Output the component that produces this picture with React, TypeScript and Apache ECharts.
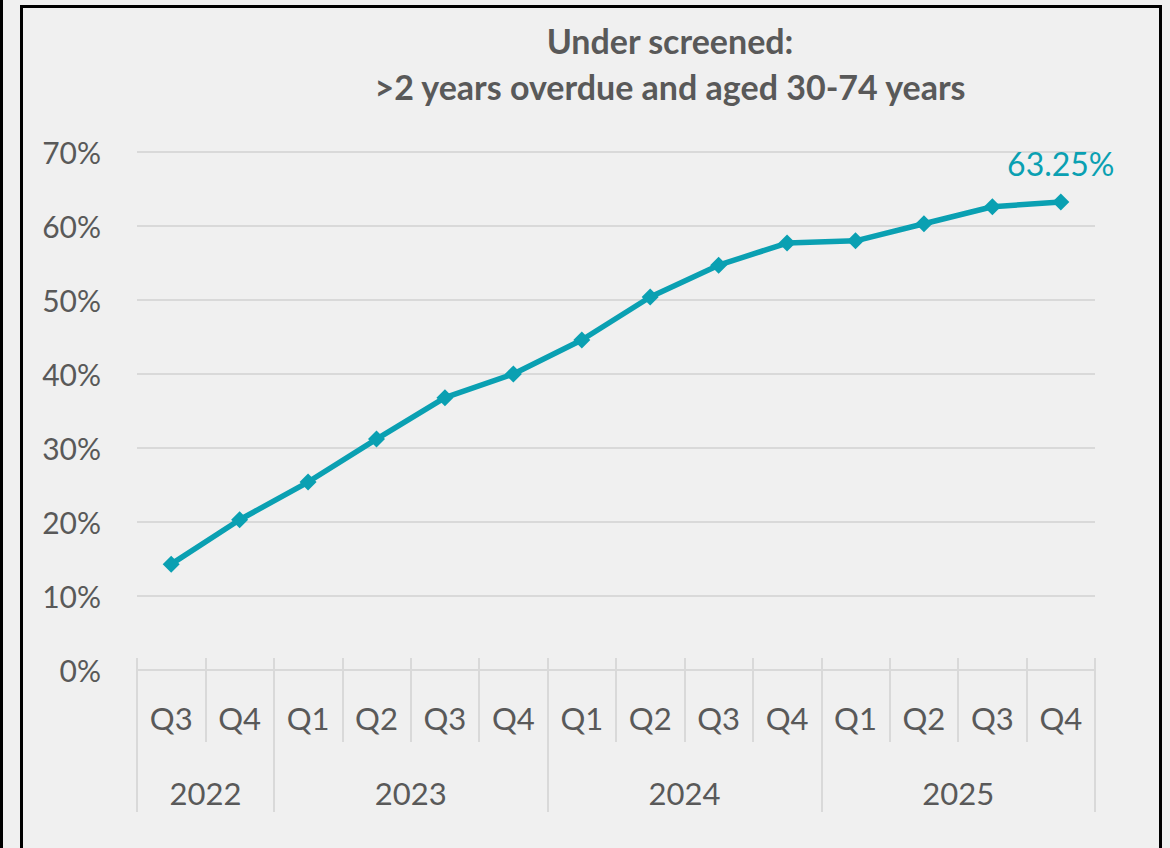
import React, { useEffect, useRef } from "react";
import * as echarts from "echarts";

const quarters = ["Q3", "Q4", "Q1", "Q2", "Q3", "Q4", "Q1", "Q2", "Q3", "Q4", "Q1", "Q2", "Q3", "Q4"];
const values = [14.3, 20.3, 25.4, 31.2, 36.8, 40.0, 44.6, 50.4, 54.7, 57.7, 58.0, 60.3, 62.6, 63.25];
const years = ["2022", "2023", "2024", "2025"];
const yearCenters = [1, 4, 8, 12];
const yearBounds = [0, 2, 6, 10, 14];
const titleLines = ["Under screened:", ">2 years overdue and aged 30-74 years"];

const FONT = "Lato, 'Open Sans', sans-serif";
const TEXT = "#595959";
const GRID = "#d9d9d9";
const TEAL = "#0aa0b2";

export default function App() {
  const ref = useRef<HTMLDivElement>(null);
  useEffect(() => {
    const chart = echarts.init(ref.current!, null, { renderer: "svg" });
    const lastIdx = values.length - 1;
    chart.setOption({
      animation: false,
      backgroundColor: "#f0f0f0",
      textStyle: { fontFamily: FONT },
      title: {
        text: titleLines.join("\n"),
        left: 665,
        top: 12,
        textAlign: "center",
        textStyle: { fontFamily: FONT, fontSize: 34, fontWeight: "bold", color: TEXT, lineHeight: 46 },
      },
      grid: { left: 137, right: 75, top: 152, bottom: 178, containLabel: false },
      xAxis: [
        {
          type: "category",
          data: quarters,
          boundaryGap: true,
          axisLine: { show: true, lineStyle: { color: GRID, width: 2 } },
          axisTick: { show: false },
          axisLabel: { show: false },
        },
        {
          type: "category",
          data: quarters,
          position: "bottom",
          offset: -12,
          boundaryGap: true,
          axisLine: { show: false },
          axisTick: { show: true, length: 84, lineStyle: { color: GRID, width: 2 } },
          axisLabel: { show: true, interval: 0, margin: 44, color: TEXT, fontSize: 31, fontFamily: FONT },
        },
        {
          type: "value",
          position: "bottom",
          offset: -12,
          min: 0,
          max: 14,
          splitLine: { show: false },
          axisLine: { show: false },
          axisTick: { show: true, length: 154, customValues: yearBounds, lineStyle: { color: GRID, width: 2 } },
          axisLabel: {
            show: true,
            customValues: yearCenters,
            margin: 119,
            color: TEXT,
            fontSize: 31,
            fontFamily: FONT,
            formatter: (v: number) => {
              const i = yearCenters.indexOf(v);
              return i >= 0 ? years[i] : "";
            },
          },
        },
      ],
      yAxis: {
        type: "value",
        min: 0,
        max: 70,
        interval: 10,
        axisLine: { show: false },
        axisTick: { show: false },
        splitLine: { show: true, lineStyle: { color: GRID, width: 2 } },
        axisLabel: { margin: 36, color: TEXT, fontSize: 30, fontFamily: FONT, formatter: "{value}%" },
      },
      series: [
        {
          type: "line",
          xAxisIndex: 0,
          data: values.map((v, i) =>
            i === lastIdx
              ? {
                  value: v,
                  label: {
                    show: true,
                    position: "top",
                    distance: 14,
                    formatter: (p: any) => p.value.toFixed(2) + "%",
                    color: TEAL,
                    fontSize: 32,
                    fontFamily: FONT,
                  },
                }
              : v
          ),
          symbol: "diamond",
          symbolSize: 17,
          lineStyle: { color: TEAL, width: 5.5 },
          itemStyle: { color: TEAL },
          label: { show: false },
        },
      ],
      graphic: [
        { type: "rect", shape: { x: 0, y: 0, width: 3, height: 848 }, style: { fill: "#000" }, silent: true },
        {
          type: "rect",
          shape: { x: 21.5, y: 6.5, width: 1139, height: 860 },
          style: { fill: "none", stroke: "#000", lineWidth: 3 },
          silent: true,
        },
      ],
    });
    return () => chart.dispose();
  }, []);
  return (
    <div style={{ position: "fixed", left: 0, top: 0, width: 1170, height: 848, background: "#f0f0f0" }}>
      <div ref={ref} style={{ width: 1170, height: 848 }} />
    </div>
  );
}
